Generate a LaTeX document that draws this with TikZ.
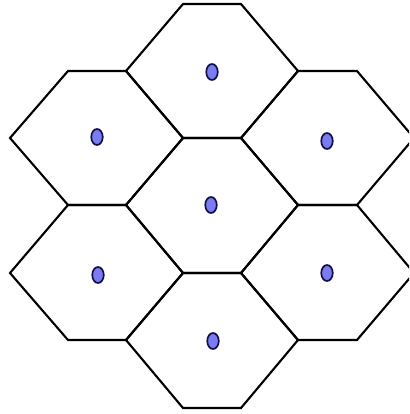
\documentclass[tikz,border=0pt]{standalone}
\usetikzlibrary{shapes.geometric}
\definecolor{dotfill}{HTML}{7B7BF2}
\definecolor{dotline}{HTML}{10104A}
\begin{document}
\begin{tikzpicture}[x=1pt,y=-1pt,
  hexline/.style={draw=black,line width=2.1pt,line join=miter},
  celldot/.style={ellipse,draw=dotline,fill=dotfill,line width=1.7pt,minimum width=11.5pt,minimum height=16pt,inner sep=0pt}]
\useasboundingbox (0,0) rectangle (409,414);
\clip (0,0) rectangle (409,414);
\def\Xa{10}\def\Xb{68}\def\Xc{126}\def\Xd{183}\def\Xe{241}\def\Xf{298}\def\Xg{357}\def\Xh{414}
\def\Ya{4}\def\Yb{71}\def\Yc{138}\def\Yd{205}\def\Ye{273}\def\Yf{340}\def\Yg{408}
% top
\draw[hexline] (\Xc,\Yb) -- (\Xd,\Ya) -- (\Xe,\Ya) -- (\Xf,\Yb) -- (\Xe,\Yc) -- (\Xd,\Yc) -- cycle;
% center
\draw[hexline] (\Xc,\Yd) -- (\Xd,\Yc) -- (\Xe,\Yc) -- (\Xf,\Yd) -- (\Xe,\Ye) -- (\Xd,\Ye) -- cycle;
% bottom
\draw[hexline] (\Xc,\Yf) -- (\Xd,\Ye) -- (\Xe,\Ye) -- (\Xf,\Yf) -- (\Xe,\Yg) -- (\Xd,\Yg) -- cycle;
% upper left
\draw[hexline] (\Xa,\Yc) -- (\Xb,\Yb) -- (\Xc,\Yb) -- (\Xd,\Yc) -- (\Xc,\Yd) -- (\Xb,\Yd) -- cycle;
% lower left
\draw[hexline] (\Xa,\Ye) -- (\Xb,\Yd) -- (\Xc,\Yd) -- (\Xd,\Ye) -- (\Xc,\Yf) -- (\Xb,\Yf) -- cycle;
% upper right
\draw[hexline] (\Xe,\Yc) -- (\Xf,\Yb) -- (\Xg,\Yb) -- (\Xh,\Yc) -- (\Xg,\Yd) -- (\Xf,\Yd) -- cycle;
% lower right
\draw[hexline] (\Xe,\Ye) -- (\Xf,\Yd) -- (\Xg,\Yd) -- (\Xh,\Ye) -- (\Xg,\Yf) -- (\Xf,\Yf) -- cycle;
% dots
\node[celldot] (dtop) at (212,72) {};
\node[celldot] (dul) at (97,137) {};
\node[celldot] (dur) at (327,141) {};
\node[celldot] (dc) at (211,205) {};
\node[celldot] (dll) at (98,275) {};
\node[celldot] (dlr) at (327,273) {};
\node[celldot] (dbot) at (213,341) {};
\end{tikzpicture}
\end{document}
